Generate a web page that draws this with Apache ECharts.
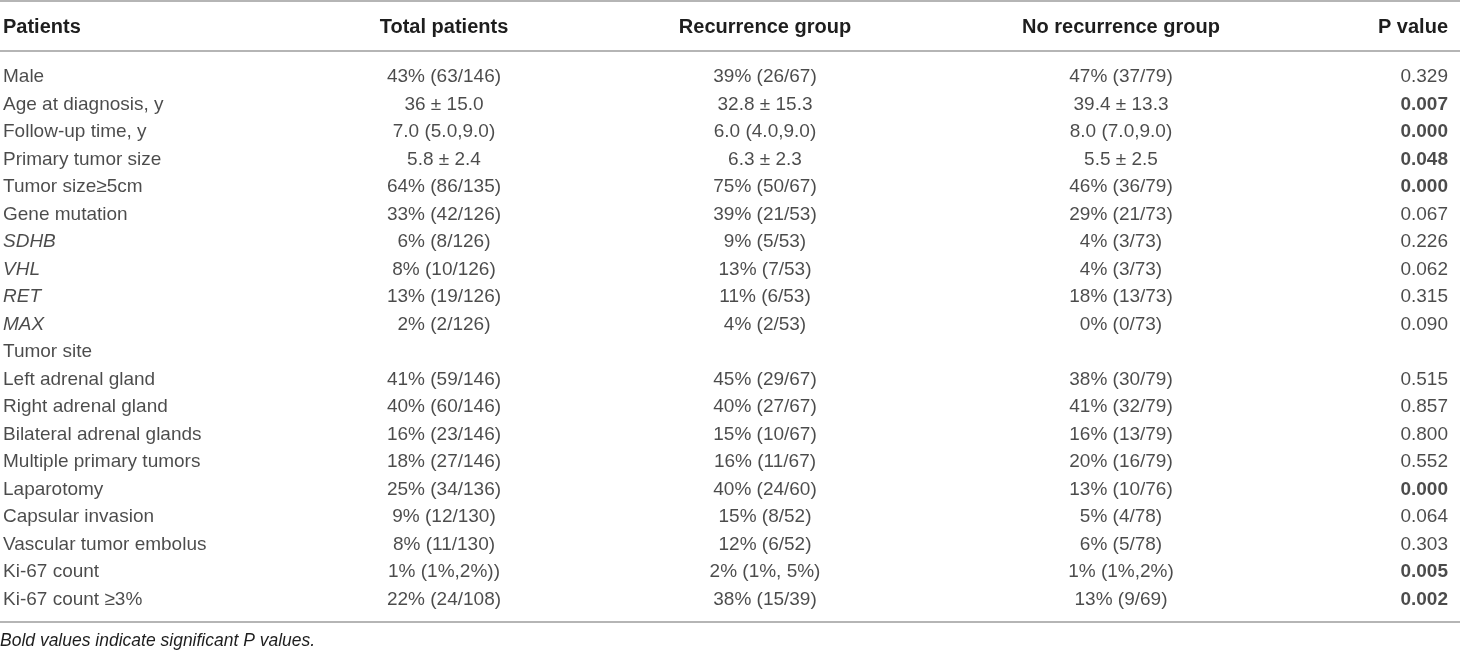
<!DOCTYPE html>
<html>
<head>
<meta charset="utf-8">
<script src="https://cdn.jsdelivr.net/npm/echarts@6/dist/echarts.min.js"></script>
<style>
html,body{margin:0;padding:0;background:#fff;}
#chart{width:1460px;height:653px;}
</style>
</head>
<body>
<div id="chart"></div>
<script>
// ---- data ----
const columns = ['Patients', 'Total patients', 'Recurrence group', 'No recurrence group', 'P value'];
const rowLabels = [
  'Male', 'Age at diagnosis, y', 'Follow-up time, y', 'Primary tumor size', 'Tumor size\u22655cm',
  'Gene mutation', 'SDHB', 'VHL', 'RET', 'MAX', 'Tumor site',
  'Left adrenal gland', 'Right adrenal gland', 'Bilateral adrenal glands', 'Multiple primary tumors',
  'Laparotomy', 'Capsular invasion', 'Vascular tumor embolus', 'Ki-67 count', 'Ki-67 count \u22653%'
];
const totalPatients = [
  '43% (63/146)', '36 \u00b1 15.0', '7.0 (5.0,9.0)', '5.8 \u00b1 2.4', '64% (86/135)',
  '33% (42/126)', '6% (8/126)', '8% (10/126)', '13% (19/126)', '2% (2/126)', '',
  '41% (59/146)', '40% (60/146)', '16% (23/146)', '18% (27/146)',
  '25% (34/136)', '9% (12/130)', '8% (11/130)', '1% (1%,2%))', '22% (24/108)'
];
const recurrenceGroup = [
  '39% (26/67)', '32.8 \u00b1 15.3', '6.0 (4.0,9.0)', '6.3 \u00b1 2.3', '75% (50/67)',
  '39% (21/53)', '9% (5/53)', '13% (7/53)', '11% (6/53)', '4% (2/53)', '',
  '45% (29/67)', '40% (27/67)', '15% (10/67)', '16% (11/67)',
  '40% (24/60)', '15% (8/52)', '12% (6/52)', '2% (1%, 5%)', '38% (15/39)'
];
const noRecurrenceGroup = [
  '47% (37/79)', '39.4 \u00b1 13.3', '8.0 (7.0,9.0)', '5.5 \u00b1 2.5', '46% (36/79)',
  '29% (21/73)', '4% (3/73)', '4% (3/73)', '18% (13/73)', '0% (0/73)', '',
  '38% (30/79)', '41% (32/79)', '16% (13/79)', '20% (16/79)',
  '13% (10/76)', '5% (4/78)', '6% (5/78)', '1% (1%,2%)', '13% (9/69)'
];
const pValues = [
  '0.329', '0.007', '0.000', '0.048', '0.000',
  '0.067', '0.226', '0.062', '0.315', '0.090', '',
  '0.515', '0.857', '0.800', '0.552',
  '0.000', '0.064', '0.303', '0.005', '0.002'
];
const italicRows = ['SDHB', 'VHL', 'RET', 'MAX'];
const footnote = 'Bold values indicate significant P values.';
const significance = 0.05;

// ---- layout / style ----
const W = 1460, H = 653;
const FONT = '"Liberation Sans", Arial, Helvetica, sans-serif';
const FS = 19;
const HFS = 20;
const TEXT = '#1e1e1e';
const RULE = '#9c9c9c';
const colAnchor = [3, 444, 765, 1121, 1448];
const colAlign = ['left', 'center', 'center', 'center', 'right'];
const headerY = 27;
const rulesY = [1, 51, 622];
const footY = 641;
const gridTop = 63.25, gridBottom = 39.75;

const colTexts = [rowLabels, totalPatients, recurrenceGroup, noRecurrenceGroup, pValues];

const series = colTexts.map((texts, c) => ({
  type: 'scatter',
  name: columns[c],
  symbolSize: 1,
  itemStyle: { color: 'rgba(0,0,0,0)' },
  silent: true,
  emphasis: { disabled: true },
  label: {
    show: true,
    position: 'inside',
    align: colAlign[c],
    verticalAlign: 'middle',
    fontFamily: FONT,
    fontSize: FS,
    color: TEXT,
    formatter: p => p.data.text
  },
  data: rowLabels.map((r, i) => {
    const item = { value: [colAnchor[c], r], text: texts[i] };
    const lab = {};
    if (c === 0 && italicRows.includes(r)) lab.fontStyle = 'italic';
    if (c === 4 && texts[i] !== '' && parseFloat(texts[i]) < significance) lab.fontWeight = 'bold';
    item.label = lab;
    return item;
  })
}));

const graphic = [];
rulesY.forEach(y => graphic.push({
  type: 'line', silent: true,
  shape: { x1: 0, y1: y, x2: W, y2: y },
  style: { stroke: RULE, lineWidth: 1.5 }
}));
columns.forEach((h, c) => graphic.push({
  type: 'text', silent: true,
  x: colAnchor[c], y: headerY,
  style: {
    text: h, fill: TEXT, font: 'bold ' + HFS + 'px ' + FONT,
    align: colAlign[c], verticalAlign: 'middle',
    textAlign: colAlign[c], textVerticalAlign: 'middle'
  }
}));
graphic.push({
  type: 'text', silent: true,
  x: 0, y: footY,
  style: {
    text: footnote, fill: TEXT, font: 'italic 17.5px ' + FONT,
    align: 'left', verticalAlign: 'middle',
    textAlign: 'left', textVerticalAlign: 'middle'
  }
});

const chart = echarts.init(document.getElementById('chart'), null, { renderer: 'canvas' });
chart.setOption({
  animation: false,
  backgroundColor: '#fff',
  grid: { left: 0, right: 0, top: gridTop, bottom: gridBottom },
  xAxis: { type: 'value', min: 0, max: W, show: false },
  yAxis: { type: 'category', data: rowLabels, inverse: true, show: false, boundaryGap: true },
  series: series,
  graphic: graphic
});
</script>
</body>
</html>
